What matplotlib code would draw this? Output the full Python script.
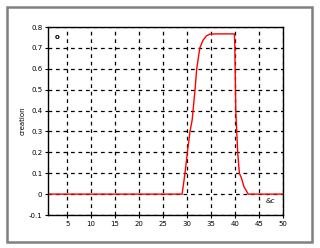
import matplotlib as mpl
mpl.use('agg')
import matplotlib.pyplot as plt
from matplotlib.patches import Rectangle

# curve
x_vals = [1, 29.0, 29.6, 30.1, 30.65, 31.1, 31.7, 32.05, 32.7, 33.4, 34.1, 34.8, 35.9,
          39.9, 40.0, 40.2, 40.6, 40.95, 41.4, 41.9, 42.5, 42.8, 50]
y_vals = [0, 0, 0.1, 0.2, 0.3, 0.355, 0.5, 0.6, 0.7, 0.738, 0.758, 0.766, 0.767,
          0.767, 0.72, 0.4, 0.2, 0.1, 0.076, 0.036, 0.012, 0, 0]
x_ticks = [5, 10, 15, 20, 25, 30, 35, 40, 45, 50]
y_ticks = [-0.1, 0, 0.1, 0.2, 0.3, 0.4, 0.5, 0.6, 0.7, 0.8]

fig = plt.figure(figsize=(3.2, 2.48), dpi=100)
fig.patches.append(Rectangle((7/320, 1-242/248), 305/320, 235/248, transform=fig.transFigure,
                             fill=False, edgecolor='#808080', linewidth=1.8))
ax = fig.add_axes([48/320, 1-215/248, (282.7-48)/320, (215-27)/248])
ax.plot(x_vals, y_vals, color='red', linewidth=1)
ax.set_xlim(1, 50)
ax.set_ylim(-0.1, 0.8)
ax.set_xticks(x_ticks)
ax.set_xticklabels([str(t) for t in x_ticks])
ax.set_yticks(y_ticks)
ax.set_yticklabels(['-0.1', '0', '0.1', '0.2', '0.3', '0.4', '0.5', '0.6', '0.7', '0.8'])
ax.tick_params(labelsize=5, length=2, width=0.8, pad=2)
ax.grid(True, color='black', linestyle=(0, (3, 3)), linewidth=0.9)
for s in ax.spines.values():
    s.set_linewidth(1)
ax.set_ylabel('creation', fontsize=5, labelpad=2)
ax.text(3, 0.75, 'o', fontsize=5, ha='center', va='center', fontweight='bold')
ax.text(47.5, -0.035, '&c', fontsize=5, ha='center', va='center', style='italic')

plt.savefig('out.png', dpi=100)
